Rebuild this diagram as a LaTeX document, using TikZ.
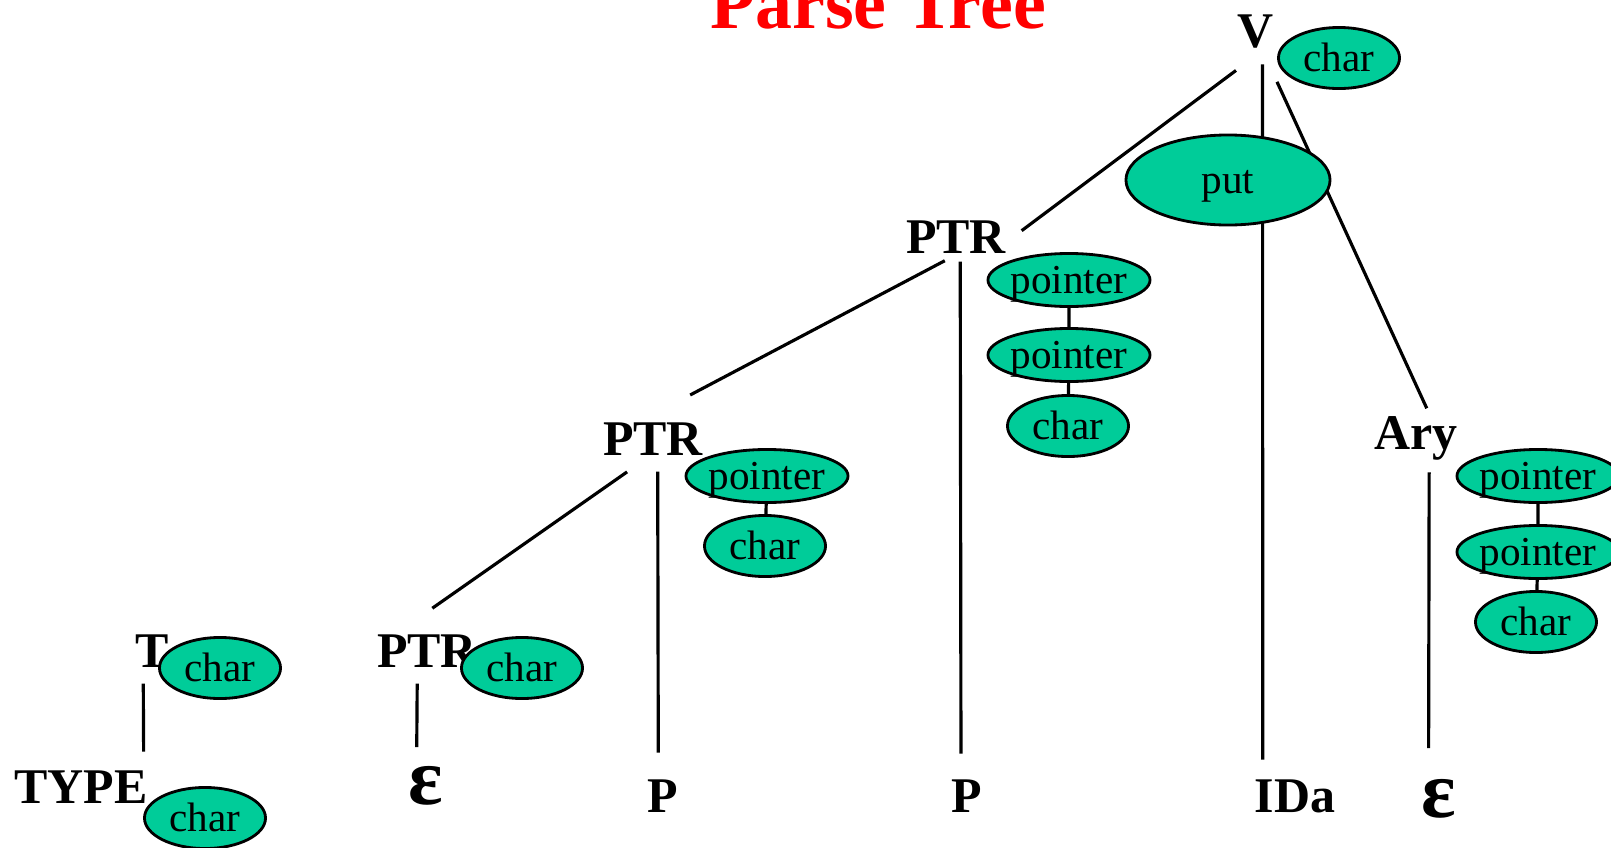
\documentclass[tikz,border=0pt]{standalone}
\usepackage{fontspec}
\setmainfont{Liberation Serif}
\usetikzlibrary{shapes,positioning,backgrounds}
\definecolor{tagfill}{RGB}{0,204,153}

\begin{document}
\begin{tikzpicture}[x=0.01cm, y=-0.01cm,
    sym/.style={font=\fontsize{14.2}{17}\selectfont\bfseries, inner sep=0.07cm, anchor=base},
    eps/.style={sym, font=\fontsize{23}{27}\selectfont\bfseries},
    tag/.style={ellipse, draw, fill=tagfill, line width=0.8pt, inner sep=-0.2cm,
      text height=0.26cm, text depth=0pt, font=\fontsize{11.7}{14}\selectfont},
    chr/.style={tag, minimum width=1.21cm, minimum height=0.61cm},
    ptr/.style={tag, minimum width=1.62cm, minimum height=0.53cm},
    edge/.style={line width=0.9pt}]
  \useasboundingbox (0,0) rectangle (1611,848);

  \node[font=\fontsize{21}{25}\selectfont\bfseries, text=red, anchor=base] (TT) at (878,28) {Parse Tree};

  % root and its attribute
  \node[sym] (V) at (1256,47) {V};
  \node[chr] (VC) at (1339,58) {char};
  \node[tag, minimum width=2.04cm, minimum height=0.9cm] (PU) at (1228,180) {put};

  % upper PTR
  \node[sym] (P1) at (956,253) {PTR};
  \node[ptr] (P1a) at (1069,280) {pointer};
  \node[ptr] (P1b) at (1069,355) {pointer};
  \node[chr] (P1c) at (1068,426) {char};

  % middle PTR
  \node[sym] (P2) at (653,455) {PTR};
  \node[ptr] (P2a) at (767,476) {pointer};
  \node[chr] (P2b) at (765,546) {char};

  % lower PTR and T
  \node[sym] (P3) at (427,667) {PTR};
  \node[chr] (P3c) at (522,668) {char};
  \node[sym] (T) at (152,667) {T};
  \node[chr] (TC) at (220,668) {char};

  % array part
  \node[sym] (AR) at (1416,449) {Ary};
  \node[ptr] (A1) at (1538,476) {pointer};
  \node[ptr] (A2) at (1538,552) {pointer};
  \node[chr] (A3) at (1536,622) {char};

  % leaves
  \node[sym] (TY) at (81,803) {TYPE};
  \node[chr] (TYC) at (205,818) {char};
  \node[eps] (E1) at (426,804) {ε};
  \node[sym] (PA) at (663,812) {P};
  \node[sym] (PB) at (967,812) {P};
  \node[sym] (ID) at (1295,812) {IDa};
  \node[eps] (E2) at (1439,817) {ε};

  \begin{scope}[on background layer={edge}]
    \draw[shorten <=0.25cm, shorten >=0.1cm] (V.south) -- (P1.east);
    \draw[shorten <=0.09cm, shorten >=0.12cm] (V.285) -- (ID.143);
    \draw[shorten <=0.29cm] (V.-70) -- (AR.70);
    \draw[shorten >=0.42cm] (P1.245) -- (P2.north);
    \draw[shorten <=0.01cm, shorten >=0.18cm] (P1.280) -- (PB.104);
    \draw[shorten <=0.16cm, shorten >=0.32cm] (P2.242) -- (P3.131);
    \draw[shorten <=0.09cm, shorten >=0.19cm] (P2.281) -- (PA.101);
    \draw[shorten <=0.09cm, shorten >=0.11cm] (P3.248) -- (E1.109);
    \draw[shorten <=0.09cm, shorten >=0.11cm] (T.250) -- (TY.21);
    \draw[shorten <=0.05cm, shorten >=0.23cm] (AR.294) -- (E2.111);
    \draw (P1a) -- (P1b) -- (P1c);
    \draw (P2a) -- (P2b);
    \draw (A1) -- (A2) -- (A3);
  \end{scope}
\end{tikzpicture}
\end{document}
